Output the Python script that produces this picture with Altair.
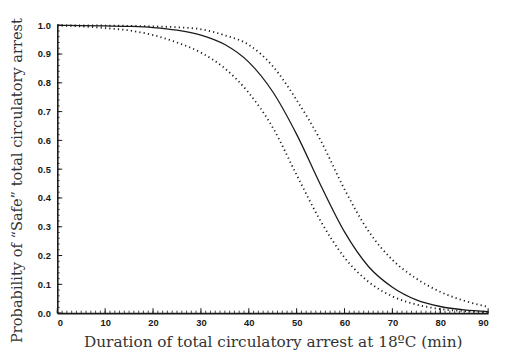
import altair as alt
import pandas as pd

# Values
minutes = [0, 5, 10, 15, 20, 25, 30, 35, 40, 45, 50, 55, 60, 65, 70, 75, 80, 85, 90]
p_estimate = [0.9995, 0.999, 0.998, 0.996, 0.992, 0.983, 0.966, 0.933, 0.872, 0.769,
              0.621, 0.445, 0.282, 0.162, 0.090, 0.046, 0.023, 0.011, 0.005]
p_lower = [0.999, 0.996, 0.990, 0.982, 0.966, 0.940, 0.905, 0.850, 0.765, 0.645,
           0.480, 0.320, 0.193, 0.109, 0.058, 0.030, 0.014, 0.007, 0.003]
p_upper = [1.0, 0.9995, 0.999, 0.998, 0.996, 0.993, 0.986, 0.965, 0.932, 0.858,
           0.740, 0.600, 0.430, 0.285, 0.185, 0.120, 0.074, 0.043, 0.022]

x_major_ticks = [0, 10, 20, 30, 40, 50, 60, 70, 80, 90]
x_minor_ticks = list(range(0, 91))
y_major_ticks = [0.0, 0.1, 0.2, 0.3, 0.4, 0.5, 0.6, 0.7, 0.8, 0.9, 1.0]
y_minor_ticks = [i / 50 for i in range(0, 51)]

W, H = 437, 292
INK = "#1a1a1a"
TITLE_FONT = "DejaVu Serif"

rows = []
for name, vals in [("estimate", p_estimate), ("lower", p_lower), ("upper", p_upper)]:
    for m, v in zip(minutes, vals):
        rows.append({"minutes": m, "p": v, "series": name})
df = pd.DataFrame(rows)

xscale = alt.Scale(domain=[0, 90], nice=False, zero=False)
yscale = alt.Scale(domain=[0, 1], nice=False)

xaxis = alt.Axis(
    values=x_major_ticks, ticks=False, grid=False, domainColor=INK, domainWidth=1.6,
    labelFont="Liberation Sans", labelFontWeight="bold", labelFontSize=9.5, labelColor=INK,
    labelPadding=5, labelOverlap=False,
    title="Duration of total circulatory arrest at 18ºC (min)",
    titleFont=TITLE_FONT, titleFontWeight="normal", titleFontSize=15.5,
    titleColor="#333333", titleY=34, titleBaseline="alphabetic",
)
yaxis = alt.Axis(
    values=y_major_ticks, format=".1f", ticks=False, grid=False, domainColor=INK,
    domainWidth=1.6, labelFont="Liberation Sans", labelFontWeight="bold",
    labelFontSize=9.5, labelColor=INK, labelPadding=7, labelOverlap=False,
    title="Probability of “Safe” total circulatory arrest",
    titleFont=TITLE_FONT, titleFontWeight="normal", titleFontSize=14.8,
    titleColor="#333333", titleX=-40, titleY=157, titleAngle=-90,
    titleAlign="center", titleBaseline="middle",
)

base = alt.Chart(df)

est = base.transform_filter(alt.datum.series == "estimate").mark_line(
    color=INK, strokeWidth=1.3, interpolate="monotone"
).encode(
    x=alt.X("minutes:Q", scale=xscale, axis=xaxis),
    y=alt.Y("p:Q", scale=yscale, axis=yaxis),
)

bands = base.transform_filter(alt.datum.series != "estimate").mark_line(
    color=INK, strokeWidth=1.8, strokeDash=[1.2, 3.2], interpolate="monotone"
).encode(
    x=alt.X("minutes:Q", scale=xscale, axis=xaxis),
    y=alt.Y("p:Q", scale=yscale, axis=yaxis),
    detail="series:N",
)

xmaj = alt.Chart(pd.DataFrame({"t": x_major_ticks})).mark_rule(color=INK, strokeWidth=1).encode(
    x=alt.X("t:Q", scale=xscale, axis=xaxis), y=alt.value(H), y2=alt.value(H - 5)
)
xmin = alt.Chart(pd.DataFrame({"t": x_minor_ticks})).mark_rule(color=INK, strokeWidth=0.8).encode(
    x=alt.X("t:Q", scale=xscale, axis=xaxis), y=alt.value(H), y2=alt.value(H - 2.5)
)
ymaj = alt.Chart(pd.DataFrame({"t": y_major_ticks})).mark_rule(color=INK, strokeWidth=1).encode(
    y=alt.Y("t:Q", scale=yscale, axis=yaxis), x=alt.value(0), x2=alt.value(5)
)
ymin = alt.Chart(pd.DataFrame({"t": y_minor_ticks})).mark_rule(color=INK, strokeWidth=0.8).encode(
    y=alt.Y("t:Q", scale=yscale, axis=yaxis), x=alt.value(0), x2=alt.value(2.5)
)

chart = alt.layer(est, bands, xmaj, xmin, ymaj, ymin).properties(
    width=W, height=H,
    autosize=alt.AutoSizeParams(type="none"),
    padding={"left": 50, "top": 15, "right": 10, "bottom": 40},
    background="white",
).configure_view(stroke=None)

chart.save("out.html", embed_options={"renderer": "svg", "actions": False})
